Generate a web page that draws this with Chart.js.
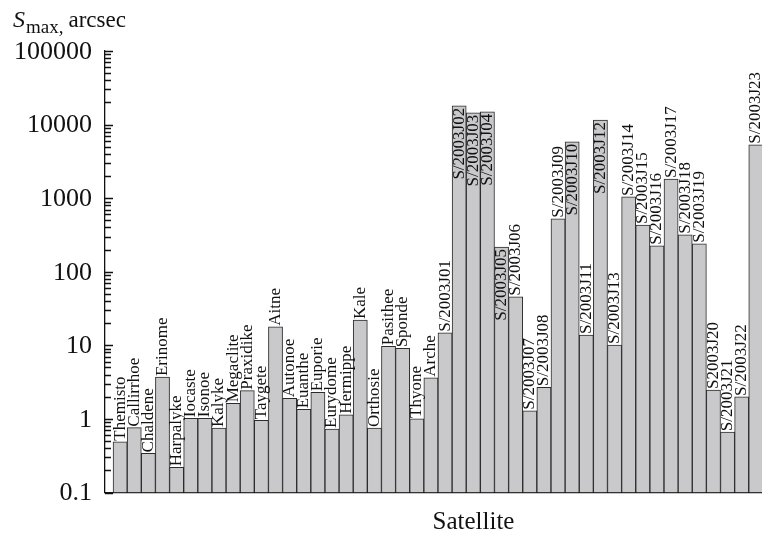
<!DOCTYPE html>
<html>
<head>
<meta charset="utf-8">
<title>Smax of Jupiter satellites</title>
<script src="https://cdn.jsdelivr.net/npm/chart.js@4.4.0/dist/chart.umd.min.js"></script>
<style>
  html, body { margin: 0; padding: 0; overflow: hidden; background: #fff; }
  #wrap { width: 842px; height: 537px; }
</style>
</head>
<body>
<div id="wrap"><canvas id="smax-chart" width="842" height="537"></canvas></div>
<script>
// Satellite names (bar order) and S_max values, arcsec
const satellites = ["Themisto", "Callirrhoe", "Chaldene", "Erinome", "Harpalyke", "Iocaste", "Isonoe",
    "Kalyke", "Megaclite", "Praxidike", "Taygete", "Aitne", "Autonoe", "Euanthe", "Euporie", "Eurydome",
    "Hermippe", "Kale", "Orthosie", "Pasithee", "Sponde", "Thyone", "Arche",
    "S/2003J01", "S/2003J02", "S/2003J03", "S/2003J04", "S/2003J05", "S/2003J06", "S/2003J07", "S/2003J08",
    "S/2003J09", "S/2003J10", "S/2003J11", "S/2003J12", "S/2003J13", "S/2003J14", "S/2003J15", "S/2003J16",
    "S/2003J17", "S/2003J18", "S/2003J19", "S2003J20", "S/2003J21", "S/2003J22", "S/2003J23"];

const smaxValues = [0.49, 0.76, 0.34, 3.7, 0.22, 1.02, 1.02,
    0.75, 1.63, 2.42, 0.96, 17.9, 1.91, 1.35, 2.3, 0.73,
    1.14, 22.1, 0.75, 9.7, 9.1, 1.0, 3.63,
    14.8, 18000, 14500, 14900, 217, 45.7, 1.29, 2.69,
    525, 5840, 13.8, 11500, 10.1, 1040, 431, 225,
    1820, 318, 240, 2.47, 0.66, 1.99, 5320];

const yTickValues = [0.1, 1, 10, 100, 1000, 10000, 100000];
const yTickLabels = ["0.1", "1", "10", "100", "1000", "10000", "100000"];

// these names are written inside the top of their bar
const insideLabels = ["S/2003J02", "S/2003J03", "S/2003J04", "S/2003J05", "S/2003J10", "S/2003J12"];

const serif = "'Liberation Serif', 'DejaVu Serif', serif";
const ink = "#111";

// Inward ticks on the log axis (decades long, 2..9 short) plus the decade labels
const logAxis = {
    id: 'logAxis',
    afterDraw(chart) {
        const y = chart.scales.y;
        const ctx = chart.ctx;
        const left = chart.chartArea.left;
        ctx.save();
        ctx.strokeStyle = ink;
        ctx.lineWidth = 1.3;
        ctx.beginPath();
        for (let d = 0; d < yTickValues.length; d++) {
            const base = yTickValues[d];
            const steps = d === yTickValues.length - 1 ? 1 : 9;
            for (let k = 1; k <= steps; k++) {
                const py = Math.round(y.getPixelForValue(base * k)) + 0.5;
                const len = k === 1 ? 8 : 6;
                ctx.moveTo(left, py);
                ctx.lineTo(left + len, py);
            }
        }
        ctx.stroke();

        ctx.fillStyle = ink;
        ctx.font = "26px " + serif;
        ctx.textAlign = "right";
        ctx.textBaseline = "middle";
        yTickValues.forEach((v, i) => {
            ctx.fillText(yTickLabels[i], left - 13, y.getPixelForValue(v) + 1);
        });
        ctx.restore();
    }
};

// Vertical satellite names at the top of each bar
const barNames = {
    id: 'barNames',
    afterDatasetsDraw(chart) {
        const ctx = chart.ctx;
        const meta = chart.getDatasetMeta(0);
        ctx.save();
        ctx.font = "17px " + serif;
        ctx.fillStyle = ink;
        ctx.textBaseline = "middle";
        meta.data.forEach((bar, i) => {
            const name = satellites[i];
            ctx.save();
            ctx.translate(bar.x, bar.y);
            ctx.rotate(-Math.PI / 2);
            if (insideLabels.includes(name)) {
                ctx.textAlign = "right";
                ctx.fillText(name, -2, 0);
            } else {
                ctx.textAlign = "left";
                ctx.fillText(name, 1, 0);
            }
            ctx.restore();
        });
        ctx.restore();
    }
};

// Axis title: S_max, arcsec
const yTitle = {
    id: 'yTitle',
    afterDraw(chart) {
        const ctx = chart.ctx;
        ctx.save();
        ctx.fillStyle = ink;
        ctx.textBaseline = "alphabetic";
        ctx.textAlign = "left";
        let x = 13;
        ctx.font = "italic 24px " + serif;
        ctx.fillText("S", x, 27);
        x += ctx.measureText("S").width + 1;
        ctx.font = "19px " + serif;
        ctx.fillText("max,", x, 33);
        x += ctx.measureText("max,").width + 5;
        ctx.font = "23px " + serif;
        ctx.fillText("arcsec", x, 27);
        ctx.restore();
    }
};

const smaxCanvas = document.getElementById("smax-chart");

let smaxChart = new Chart(smaxCanvas, {
    type: 'bar',
    data: {
        datasets: [{
            data: smaxValues.map((v, i) => ({ x: i, y: v })),
            backgroundColor: '#c9c9cc',
            borderColor: '#2b2b2b',
            borderWidth: 1,
            barPercentage: 1,
            categoryPercentage: 1
        }]
    },
    options: {
        responsive: false,
        animation: false,
        layout: {
            padding: { top: 51, right: 0, bottom: 0, left: 0 }
        },
        plugins: {
            legend: { display: false },
            tooltip: { enabled: false }
        },
        scales: {
            x: {
                type: 'linear',
                offset: false,
                min: -1.07,
                max: 51.1,
                ticks: { display: false },
                grid: { display: false, drawTicks: false },
                border: { display: true, color: ink, width: 1.3 },
                title: {
                    display: true,
                    text: 'Satellite',
                    color: ink,
                    font: { family: serif, size: 25 },
                    padding: { top: 4, bottom: 0 }
                },
                afterFit: (scale) => { scale.height = 44.5; }
            },
            y: {
                type: 'logarithmic',
                min: 0.1,
                max: 100000,
                afterBuildTicks: (scale) => {
                    scale.ticks = yTickValues.map(v => ({ value: v }));
                },
                ticks: { display: false },
                grid: { display: false, drawTicks: false },
                border: { display: true, color: ink, width: 1.3 },
                afterFit: (scale) => { scale.width = 105; }
            }
        }
    },
    plugins: [logAxis, barNames, yTitle]
});
</script>
</body>
</html>
